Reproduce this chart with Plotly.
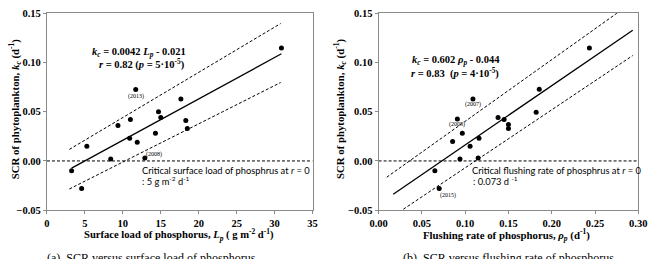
import plotly.graph_objects as go

# ---------------- data ----------------
# panel (a): surface load of phosphorus vs SCR
load_p = [3.25, 4.57, 5.26, 8.4, 9.36, 11.0, 10.9, 11.9, 12.9, 14.3, 14.7, 15.0, 17.65, 18.3, 18.5, 11.7, 30.9]
scr_a = [-0.010, -0.028, 0.015, 0.002, 0.036, 0.042, 0.023, 0.019, 0.003, 0.028, 0.050, 0.044, 0.063, 0.041, 0.033, 0.0725, 0.1146]
slope_a, icpt_a = 0.0042, -0.021
fit_range_a = [3.25, 30.9]
band_x_a = [2.95, 30.8]
band_up_a = [0.0117, 0.1395]
band_lo_a = [-0.0285, 0.0796]
labels_a = ["(2013)", "(2008)"]
label_pts_a = [(11.7, 0.0725), (12.9, 0.003)]

# panel (b): flushing rate of phosphorus vs SCR
rho_p = [0.065, 0.070, 0.1057, 0.094, 0.150, 0.091, 0.116, 0.0855, 0.115, 0.0967, 0.182, 0.138, 0.109, 0.145, 0.150, 0.1856, 0.2435]
scr_b = [-0.010, -0.028, 0.015, 0.002, 0.037, 0.0427, 0.023, 0.0197, 0.003, 0.028, 0.0495, 0.044, 0.063, 0.042, 0.033, 0.0728, 0.1146]
slope_b, icpt_b = 0.602, -0.044
fit_range_b = [0.0169, 0.2936]
band_x_b = [0.0094, 0.2936]
band_up_b = [-0.0165, 0.1614]
band_lo_b = [-0.0603, 0.1070]
labels_b = ["(2007)", "(2005)", "(2015)"]
label_pts_b = [(0.109, 0.063), (0.091, 0.0427), (0.070, -0.028)]

y_ticks = [-0.05, 0.00, 0.05, 0.10, 0.15]
x_ticks_a = [0, 5, 10, 15, 20, 25, 30, 35]
x_ticks_b = [0.00, 0.05, 0.10, 0.15, 0.20, 0.25, 0.30]

# ---------------- figure ----------------
SERIF = "Liberation Serif"
SANS = "Lato"
DASH = "3px,2px"

fig = go.Figure()

def add_panel(xs, ys, slope, icpt, fit_range, bx, bup, blo, xmax, xa, ya):
    fit_y = [slope * v + icpt for v in fit_range]
    fig.add_trace(go.Scatter(x=[0, xmax], y=[0, 0], mode="lines", xaxis=xa, yaxis=ya,
                             line=dict(color="black", width=1, dash=DASH), showlegend=False))
    fig.add_trace(go.Scatter(x=bx, y=bup, mode="lines", xaxis=xa, yaxis=ya,
                             line=dict(color="black", width=1, dash=DASH), showlegend=False))
    fig.add_trace(go.Scatter(x=bx, y=blo, mode="lines", xaxis=xa, yaxis=ya,
                             line=dict(color="black", width=1, dash=DASH), showlegend=False))
    fig.add_trace(go.Scatter(x=fit_range, y=fit_y, mode="lines", xaxis=xa, yaxis=ya,
                             line=dict(color="black", width=1.3), showlegend=False))
    fig.add_trace(go.Scatter(x=xs, y=ys, mode="markers", xaxis=xa, yaxis=ya,
                             marker=dict(color="black", size=5), showlegend=False, cliponaxis=False))

add_panel(load_p, scr_a, slope_a, icpt_a, fit_range_a, band_x_a, band_up_a, band_lo_a, 35, "x", "y")
add_panel(rho_p, scr_b, slope_b, icpt_b, fit_range_b, band_x_b, band_up_b, band_lo_b, 0.30, "x2", "y2")

ydom = [0.1726, 0.967]
axis_common = dict(showline=True, linecolor="#8a8a8a", linewidth=1, mirror=True,
                   showgrid=False, zeroline=False, ticks="outside", ticklen=3,
                   tickcolor="#8a8a8a",
                   tickfont=dict(family=SERIF, size=10.5, color="black", weight="bold"))

fig.update_layout(
    width=657, height=259,
    margin=dict(l=0, r=0, t=0, b=0),
    paper_bgcolor="white", plot_bgcolor="white",
    xaxis=dict(domain=[0.0594, 0.475], range=[0, 35], tickvals=x_ticks_a, anchor="y", **axis_common),
    yaxis=dict(domain=ydom, range=[-0.05, 0.15], tickvals=y_ticks, tickformat=".2f", anchor="x", **axis_common),
    xaxis2=dict(domain=[0.5784, 0.9848], range=[0, 0.30], tickvals=x_ticks_b, tickformat=".2f", anchor="y2", **axis_common),
    yaxis2=dict(domain=ydom, range=[-0.05, 0.15], tickvals=y_ticks, tickformat=".2f", anchor="x2", **axis_common),
)

ann = []
def A(text, x, y, xref="paper", yref="paper", size=10, family=SERIF, bold=True, xanchor="center",
      yanchor="middle", angle=0, align="center"):
    ann.append(dict(text=text, x=x, y=y, xref=xref, yref=yref, showarrow=False, xanchor=xanchor,
                    yanchor=yanchor, textangle=angle, align=align,
                    font=dict(family=family, size=size, color="black", weight="bold" if bold else "normal")))

def px(xp):
    return xp / 657.0
def py(yp):
    return 1 - yp / 259.0

# axis titles
A("SCR of phytoplankton, <i>k<sub>c</sub></i> (d<sup>-1</sup>)", px(7), py(108), size=10.8, angle=-90)
A("SCR of phytoplankton, <i>k<sub>c</sub></i> (d<sup>-1</sup>)", px(341), py(108), size=10.8, angle=-90)
A("Surface load of phosphorus, <i>L<sub>p</sub></i> ( g m<sup>-2</sup> d<sup>-1</sup>)", px(175), py(240), size=10.6)
A("Flushing rate of phosphorus, <i>ρ<sub>p</sub></i> (d<sup>-1</sup>)", px(512), py(240), size=10.8)

# equations
A("<i>k<sub>c</sub></i> = 0.0042 <i>L<sub>p</sub></i> - 0.021", px(134), py(50), size=10.5)
A("<i>r</i> = 0.82 (<i>p</i> = 5·10<sup>-5</sup>)", px(137), py(62), size=10.5)
A("<i>k<sub>c</sub></i> = 0.602 <i>ρ<sub>p</sub></i> - 0.044", px(460), py(58), size=10.5)
A("<i>r</i> = 0.83  (<i>p</i> = 4·10<sup>-5</sup>)", px(459), py(71), size=10.5)

# critical values
A("Critical surface load of phosphrus at <i>r</i> = 0", px(135), py(173), size=9.3, family=SANS,
  bold=False, xanchor="left")
A(": 5 g m<sup>-2</sup> d<sup>-1</sup>", px(135), py(184), size=9.3, family=SANS, bold=False, xanchor="left")
A("Critical flushing rate of phosphrus at <i>r</i> = 0", px(474), py(173), size=9.3, family=SANS,
  bold=False, xanchor="left")
A(": 0.073 d <sup>-1</sup>", px(475), py(184), size=9.3, family=SANS, bold=False, xanchor="left")

# year labels
offs_a = [(0, -7), (9, 3)]
for t, (xv, yv), (dx, dy) in zip(labels_a, label_pts_a, offs_a):
    ann.append(dict(text=t, x=xv, y=yv, xref="x", yref="y", showarrow=False, xshift=dx, yshift=dy,
                    font=dict(family=SERIF, size=6, color="black")))
offs_b = [(0, -6), (0, -6), (9, -7)]
for t, (xv, yv), (dx, dy) in zip(labels_b, label_pts_b, offs_b):
    ann.append(dict(text=t, x=xv, y=yv, xref="x2", yref="y2", showarrow=False, xshift=dx, yshift=dy,
                    font=dict(family=SERIF, size=6, color="black")))

# captions (cut off at the bottom in the original)
A("(a)  SCR versus surface load of phosphorus", px(37), py(264), size=12, bold=False, xanchor="left")
A("(b)  SCR versus flushing rate of phosphorus", px(403), py(264), size=12, bold=False, xanchor="left")

fig.update_layout(annotations=ann)
fig.write_html("out.html")
